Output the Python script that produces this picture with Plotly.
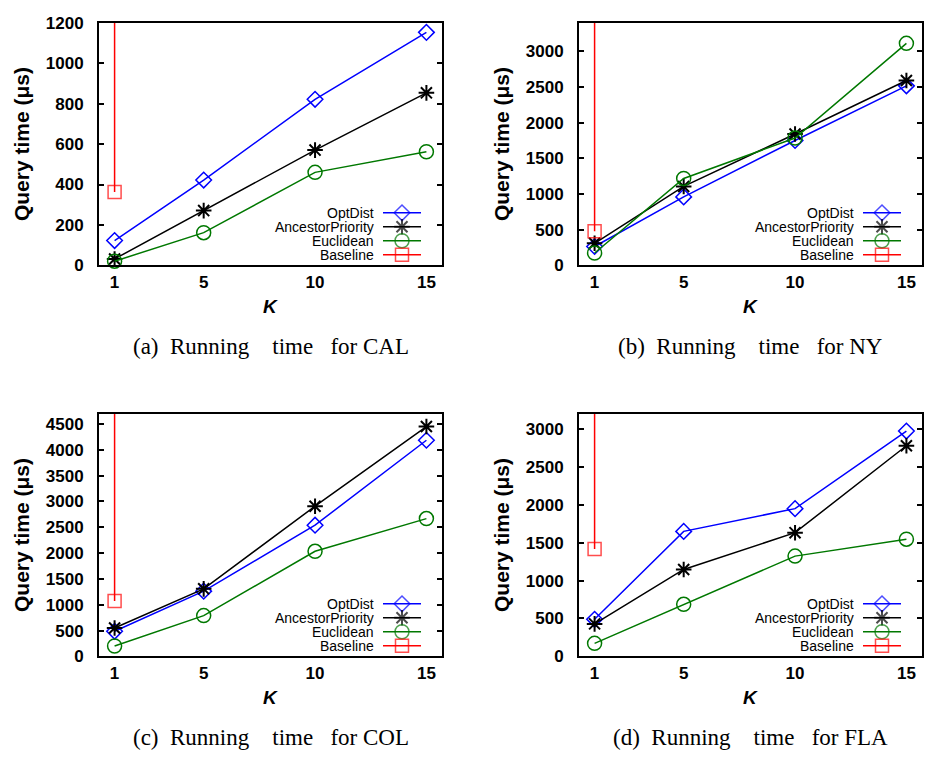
import plotly.graph_objects as go

W, H = 928, 761

K = [1, 5, 10, 15]
series_names = ["OptDist", "AncestorPriority", "Euclidean", "Baseline"]

cal_optdist = [123, 422, 821, 1152]
cal_ancestor = [32, 271, 570, 853]
cal_euclidean = [21, 162, 460, 562]
cal_baseline = [363]

ny_optdist = [265, 960, 1750, 2515]
ny_ancestor = [310, 1107, 1840, 2590]
ny_euclidean = [174, 1217, 1784, 3110]
ny_baseline = [480]

col_optdist = [487, 1264, 2541, 4185]
col_ancestor = [550, 1308, 2908, 4450]
col_euclidean = [202, 790, 2035, 2668]
col_baseline = [1075]

fla_optdist = [489, 1648, 1948, 2970]
fla_ancestor = [429, 1146, 1631, 2777]
fla_euclidean = [172, 687, 1322, 1545]
fla_baseline = [1416]

captions = ["(a)", "(b)", "(c)", "(d)"]
datasets = ["CAL", "NY", "COL", "FLA"]
y_max = [1200, 3400, 4700, 3200]
y_tick_step = [200, 500, 500, 500]

panels = [
    (cal_optdist, cal_ancestor, cal_euclidean, cal_baseline),
    (ny_optdist, ny_ancestor, ny_euclidean, ny_baseline),
    (col_optdist, col_ancestor, col_euclidean, col_baseline),
    (fla_optdist, fla_ancestor, fla_euclidean, fla_baseline),
]

colors = ["#0000ff", "#000000", "#007800", "#ff0000"]
symbols = ["diamond-open", "asterisk-open", "circle-open", "square-open"]
msizes = [12, 13, 14, 13]
mwidths = [1.5, 2, 1.5, 1.5]

# pixel boxes of plot areas (left, right, top, bottom)
boxes = [(99, 442, 14, 263), (579, 922, 14, 263),
         (99, 442, 415, 664), (579, 922, 415, 664)]

SANS = "Liberation Sans"
SERIF = "Liberation Serif"

def px(x):
    return x / W

def py(y):
    return 1 - y / H

fig = go.Figure()
layout = dict(width=W, height=H, autosize=False, margin=dict(l=0, r=0, t=0, b=0),
              paper_bgcolor="white", plot_bgcolor="white", showlegend=False)
annotations = []

for i, (data, box) in enumerate(zip(panels, boxes)):
    n = i + 1
    xa = "x" if n == 1 else f"x{n}"
    ya = "y" if n == 1 else f"y{n}"
    L, R, T, B = box
    layout["xaxis" if n == 1 else f"xaxis{n}"] = dict(
        domain=[px(L), px(R)], range=[0.3, 15.7], anchor=ya,
        tickvals=K, ticktext=[str(k) for k in K], ticks="",
        showline=True, linecolor="black", linewidth=2, mirror=True,
        showgrid=False, zeroline=False,
        tickfont=dict(family=SANS, size=17, color="black", weight="bold"),
        ticklabelstandoff=0)
    layout["yaxis" if n == 1 else f"yaxis{n}"] = dict(
        domain=[py(B), py(T)], range=[0, y_max[i]], anchor=xa,
        tickvals=list(range(0, y_max[i] + 1, y_tick_step[i])),
        ticks="inside", ticklen=5, tickwidth=1.5, tickcolor="black",
        showline=True, linecolor="black", linewidth=2, mirror="ticks",
        showgrid=False, zeroline=False,
        tickfont=dict(family=SANS, size=17, color="black", weight="bold"),
        ticklabelstandoff=10)

    opt, anc, euc, base = data
    for j, vals in enumerate([opt, anc, euc]):
        fig.add_trace(go.Scatter(
            x=K, y=vals, xaxis=xa, yaxis=ya, mode="lines+markers",
            line=dict(color=colors[j], width=1.5),
            marker=dict(symbol=symbols[j], size=msizes[j], color=colors[j],
                        line=dict(color=colors[j], width=mwidths[j])),
            cliponaxis=False, name=series_names[j]))
    # Baseline: single measured point, line leaving the top of the chart
    fig.add_trace(go.Scatter(
        x=[K[0], K[0]], y=[base[0], y_max[i]], xaxis=xa, yaxis=ya,
        mode="lines+markers", line=dict(color=colors[3], width=1.5),
        marker=dict(symbol=symbols[3], size=[msizes[3], 0], color=colors[3],
                    line=dict(color=colors[3], width=mwidths[3])),
        name=series_names[3]))

    # Axis titles
    annotations.append(dict(x=px((L + R) / 2), y=py(B + 42), xref="paper", yref="paper",
                            text="<b><i>K</i></b>", showarrow=False,
                            font=dict(family=SANS, size=19, color="black"),
                            xanchor="center", yanchor="middle"))
    annotations.append(dict(x=px(L - 78), y=py((T + B) / 2), xref="paper", yref="paper",
                            text="<b>Query time (μs)</b>", showarrow=False, textangle=-90,
                            font=dict(family=SANS, size=21, color="black"),
                            xanchor="center", yanchor="middle"))
    nb = "\u00a0"
    cap = f"{captions[i]}{nb*2}Running{nb*4}time{nb*3}for {datasets[i]}"
    annotations.append(dict(x=px((L + R) / 2), y=py(B + 83), xref="paper", yref="paper",
                            text=cap, showarrow=False,
                            font=dict(family=SERIF, size=23, color="black"),
                            xanchor="center", yanchor="middle"))

    # Key (gnuplot style: text on the left, sample on the right)
    lx0, lx1 = R - 59, R - 21
    row0 = B - 54
    step = 14.33
    lx_axis = f"x{n + 4}"
    ly_axis = f"y{n + 4}"
    layout[f"xaxis{n + 4}"] = dict(domain=[px(lx0), px(lx1)], range=[0, 1], anchor=ly_axis,
                                   visible=False, fixedrange=True)
    layout[f"yaxis{n + 4}"] = dict(domain=[py(row0 + 3.5 * step), py(row0 - 0.5 * step)],
                                   range=[3.5, -0.5], anchor=lx_axis, visible=False,
                                   fixedrange=True)
    for j in range(4):
        fig.add_trace(go.Scatter(
            x=[0, 0.5, 1], y=[j, j, j], xaxis=lx_axis, yaxis=ly_axis,
            mode="lines+markers", line=dict(color=colors[j], width=1.5),
            marker=dict(symbol=symbols[j], size=[0, msizes[j], 0], color=colors[j],
                        line=dict(color=colors[j], width=mwidths[j])),
            cliponaxis=False, hoverinfo="skip"))
        annotations.append(dict(x=px(lx0 - 7), y=py(row0 + j * step), xref="paper", yref="paper",
                                text=series_names[j], showarrow=False,
                                font=dict(family=SANS, size=14, color="black"),
                                xanchor="right", yanchor="middle"))

layout["annotations"] = annotations
fig.update_layout(**layout)
fig.write_html("out.html", config={"displayModeBar": False},
               post_script="document.body.style.margin='0';document.body.style.overflow='hidden';")
